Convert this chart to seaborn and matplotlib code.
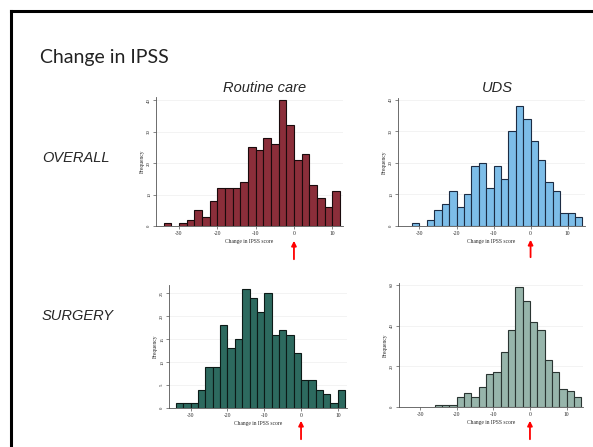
import numpy as np
import pandas as pd
import matplotlib
matplotlib.use("Agg")
import matplotlib.pyplot as plt
import seaborn as sns
from matplotlib.lines import Line2D

# ---- data ----
bin_start = -34
bin_width = 2
n_bins = 24
overall_routine = [1, 0, 1, 2, 5, 3, 8, 12, 12, 12, 14, 25, 24, 28, 26, 40, 32, 21, 23, 13, 9, 6, 11, 0]
overall_uds = [0, 1, 0, 2, 5, 7, 11, 6, 10, 19, 20, 12, 19, 15, 30, 38, 34, 27, 21, 14, 11, 4, 4, 3]
surgery_routine = [1, 1, 1, 4, 9, 9, 18, 13, 15, 26, 24, 21, 25, 16, 17, 16, 12, 6, 6, 4, 3, 1, 4, 0]
surgery_uds = [0, 0, 0, 0, 1, 1, 1, 5, 7, 5, 10, 16, 17, 27, 38, 59, 52, 42, 38, 23, 17, 9, 8, 5]
x_ticks = [-30, -20, -10, 0, 10]
col_titles = ["Routine care", "UDS"]
row_titles = ["OVERALL", "SURGERY"]
slide_title = "Change in IPSS"
xlabel = "Change in IPSS score"
ylabel = "Frequency"

sns.set_theme(style="white")
plt.rcParams['font.family'] = ['DejaVu Sans']

W, H = 593, 447
fig = plt.figure(figsize=(W / 100, H / 100), dpi=100)

def ax_rect(l, r, t, b):
    return [l / W, 1 - b / H, (r - l) / W, (b - t) / H]

panels = [
    dict(counts=overall_routine, rect=ax_rect(156, 343, 97, 226), xlim=(-36, 12.8), ylim=(0, 41),
         yticks=[0, 10, 20, 30, 40], face="#8B2E3A", edge="#1a0a0c"),
    dict(counts=overall_uds, rect=ax_rect(398, 585, 98, 226), xlim=(-35.8, 14.7), ylim=(0, 40.6),
         yticks=[0, 10, 20, 30, 40], face="#7DBDE8", edge="#1c2c44"),
    dict(counts=surgery_routine, rect=ax_rect(169, 347, 285, 408), xlim=(-35.9, 12.5), ylim=(0, 26.8),
         yticks=[0, 5, 10, 15, 20, 25], face="#2D6A5F", edge="#0c1a17"),
    dict(counts=surgery_uds, rect=ax_rect(399, 583, 283, 407), xlim=(-35.8, 14.5), ylim=(0, 61),
         yticks=[0, 20, 40, 60], face="#97B5AB", edge="#2a3532"),
]

serif = ['Liberation Serif', 'DejaVu Serif']
edges = [bin_start + i * bin_width for i in range(n_bins + 1)]
centers = [bin_start + bin_width / 2 + i * bin_width for i in range(n_bins)]

axes = []
for p in panels:
    ax = fig.add_axes(p["rect"])
    df = pd.DataFrame({"x": centers, "w": p["counts"]})
    sns.histplot(data=df, x="x", weights="w", bins=edges, ax=ax,
                 color=p["face"], alpha=1, edgecolor=p["edge"], linewidth=0.8)
    for patch in list(ax.patches):
        if patch.get_height() == 0:
            patch.remove()
    ax.set_xlim(*p["xlim"])
    ax.set_ylim(*p["ylim"])
    ax.set_xticks(x_ticks)
    ax.set_yticks(p["yticks"])
    ax.set_xticklabels([str(v) for v in x_ticks], fontsize=4, family=serif)
    ax.set_yticklabels([str(v) for v in p["yticks"]], fontsize=3.5, family=serif,
                       rotation=90, va="center")
    ax.set_xlabel(xlabel, fontsize=4, family=serif, labelpad=2)
    ax.set_ylabel(ylabel, fontsize=4, family=serif, labelpad=2)
    ax.yaxis.grid(True, color="#eeeeee", lw=0.5)
    ax.set_axisbelow(True)
    for s in ["top", "right"]:
        ax.spines[s].set_visible(False)
    for s in ["left", "bottom"]:
        ax.spines[s].set_color("#555555")
        ax.spines[s].set_linewidth(0.6)
    ax.tick_params(axis="both", length=2, width=0.5, color="#555555", pad=1.5,
                   bottom=True, left=True)
    axes.append(ax)

# red arrows under zero
arrow_specs = [(axes[0], 238, 262, 226, 129), (axes[1], 237, 260, 226, 128),
               (axes[2], 418, 442, 408, 123), (axes[3], 418, 442, 407, 124)]
for ax, tip, tail, bot, h in arrow_specs:
    ax.annotate("", xy=(0, (bot - tip) / h), xycoords=("data", "axes fraction"),
                xytext=(0, (bot - tail) / h), textcoords=("data", "axes fraction"),
                arrowprops=dict(arrowstyle="-|>", color="red", lw=1.3, mutation_scale=7),
                annotation_clip=False)

# texts
fig.text(40 / W, 1 - 58 / H, slide_title, fontsize=14, family=['Lato', 'DejaVu Sans'],
         ha="left", va="center", color="#222222")
fig.text(265 / W, 1 - 88 / H, col_titles[0], fontsize=10.5, style="italic",
         family=['Liberation Sans', 'DejaVu Sans'], ha="center", va="center")
fig.text(497 / W, 1 - 88 / H, col_titles[1], fontsize=10.5, style="italic",
         family=['Liberation Sans', 'DejaVu Sans'], ha="center", va="center")
fig.text(42 / W, 1 - 158 / H, row_titles[0], fontsize=10.5, style="italic",
         family=['Liberation Sans', 'DejaVu Sans'], ha="left", va="center")
fig.text(42 / W, 1 - 316 / H, row_titles[1], fontsize=10.5, style="italic",
         family=['Liberation Sans', 'DejaVu Sans'], ha="left", va="center")

# slide border
fig.add_artist(Line2D([10.5 / W, 1.0], [1 - 11 / H, 1 - 11 / H], color="black", lw=2.2,
                      transform=fig.transFigure, solid_capstyle="projecting"))
fig.add_artist(Line2D([10.5 / W, 10.5 / W], [1 - 11 / H, 0.0], color="black", lw=2.2,
                      transform=fig.transFigure, solid_capstyle="projecting"))

fig.savefig("out.png", dpi=100, facecolor="white")
